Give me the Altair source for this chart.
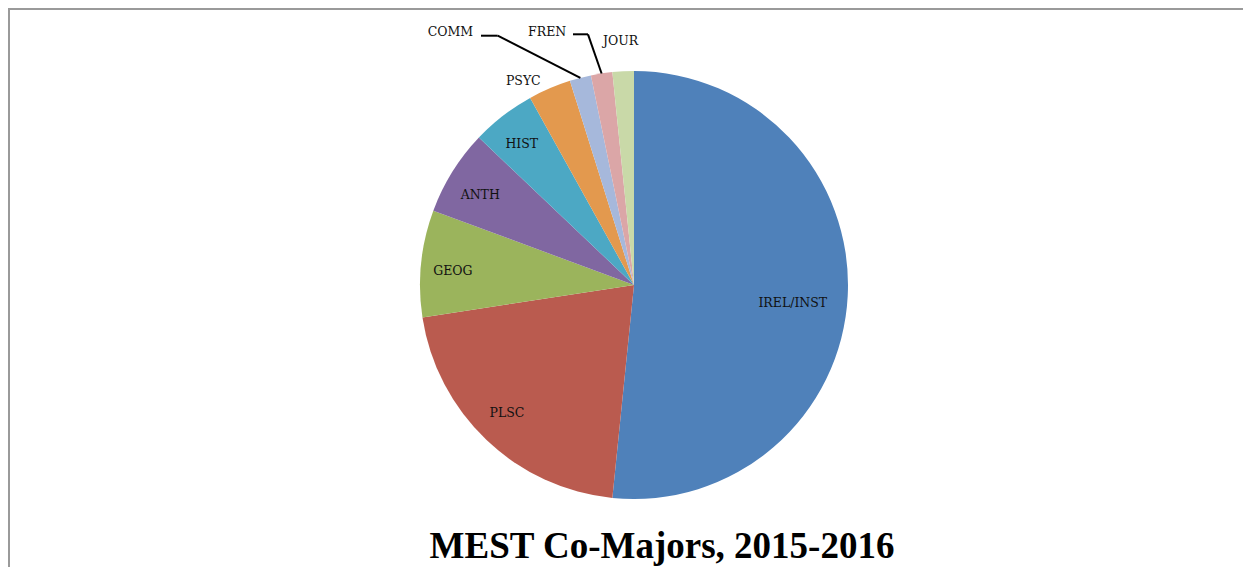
import altair as alt
import pandas as pd

# ---- data ----
categories = ["IREL/INST", "PLSC", "GEOG", "ANTH", "HIST", "PSYC", "COMM", "FREN", "JOUR"]
counts = [32, 13, 5, 4, 3, 2, 1, 1, 1]
colors = ["#4F81BA", "#BA5B4F", "#9BB45C", "#8067A1", "#4CA8C4", "#E3994E",
          "#A6B8DB", "#DBA6A7", "#C9D9A8"]
title_text = "MEST Co-Majors, 2015-2016"

df = pd.DataFrame({"cat": categories, "count": counts, "order": list(range(len(categories)))})
total = sum(counts)

# ---- layout ----
W, H = 1235, 559
CX, CY, R = 626, 277, 214
LABEL_FONT = "DejaVu Serif"
TITLE_FONT = "Liberation Serif"
# label placement: radius from centre, plus small pixel shift
label_layout = {
    "IREL/INST": (159, 0, 10),
    "PLSC": (180, -3, -2),
    "GEOG": (182, 0, 4),
    "ANTH": (180, -1, 5),
    "HIST": (180, -2, 1),
    "PSYC": (220, -24, -2),
    "COMM": (254, -120, -7),
    "FREN": (250, -49, -6),
    "JOUR": (244, -1, 0),
}
# leader lines: knee point and end of horizontal segment (chart pixels)
leaders = {
    "COMM": ((489.7, 27.7), (473, 27.7)),
    "FREN": ((580, 26.3), (565, 26.3)),
}

theta_scale = alt.Scale(domain=[0, total])

base = alt.Chart(df).transform_window(
    cum="sum(count)", sort=[alt.SortField("order")]
).transform_calculate(
    start="datum.cum - datum.count",
    mid="datum.cum - datum.count / 2",
    ex=f"{CX} + {R} * sin(2 * PI * (datum.cum - datum.count / 2) / {total})",
    ey=f"{CY} - {R} * cos(2 * PI * (datum.cum - datum.count / 2) / {total})",
)

arcs = base.mark_arc(outerRadius=R).encode(
    theta=alt.Theta("start:Q", scale=theta_scale),
    theta2="cum:Q",
    color=alt.Color("cat:N", scale=alt.Scale(domain=categories, range=colors), legend=None),
    x=alt.value(CX),
    y=alt.value(CY),
)

layers = [arcs]

for cat, (r, dx, dy) in label_layout.items():
    layers.append(
        base.transform_filter(alt.datum.cat == cat).mark_text(
            radius=r, dx=dx, dy=dy, font=LABEL_FONT, fontSize=12.5,
            color="#111111", align="center", baseline="middle",
        ).encode(
            theta=alt.Theta("mid:Q", scale=theta_scale),
            text="cat:N",
            x=alt.value(CX),
            y=alt.value(CY),
        )
    )

for cat, (knee, end) in leaders.items():
    layers.append(
        base.transform_filter(alt.datum.cat == cat).mark_rule(
            color="#000000", strokeWidth=2
        ).encode(
            x=alt.X("ex:Q", scale=None),
            y=alt.Y("ey:Q", scale=None),
            x2=alt.value(knee[0]),
            y2=alt.value(knee[1]),
        )
    )
    layers.append(
        base.transform_filter(alt.datum.cat == cat).mark_rule(
            color="#000000", strokeWidth=2
        ).encode(
            x=alt.value(knee[0]),
            y=alt.value(knee[1]),
            x2=alt.value(end[0]),
            y2=alt.value(end[1]),
        )
    )

title = alt.Chart(pd.DataFrame({"t": [title_text]})).mark_text(
    font=TITLE_FONT, fontSize=37, fontWeight="bold", color="#000000",
    align="center", baseline="alphabetic",
).encode(text="t:N", x=alt.value(654), y=alt.value(550))
layers.append(title)

frame_top = alt.Chart(pd.DataFrame({"a": [0]})).mark_rule(color="#9a9a9a", strokeWidth=2).encode(
    x=alt.value(0), x2=alt.value(W), y=alt.value(1))
frame_left = alt.Chart(pd.DataFrame({"a": [0]})).mark_rule(color="#9a9a9a", strokeWidth=2).encode(
    x=alt.value(1), y=alt.value(0), y2=alt.value(H))
layers += [frame_top, frame_left]

chart = alt.layer(*layers).properties(
    width=W, height=H, autosize=alt.AutoSizeParams(type="none"), padding=0
).configure_view(stroke=None).configure(background="#ffffff")

chart.save("out.html", embed_options={"renderer": "svg", "actions": False})
